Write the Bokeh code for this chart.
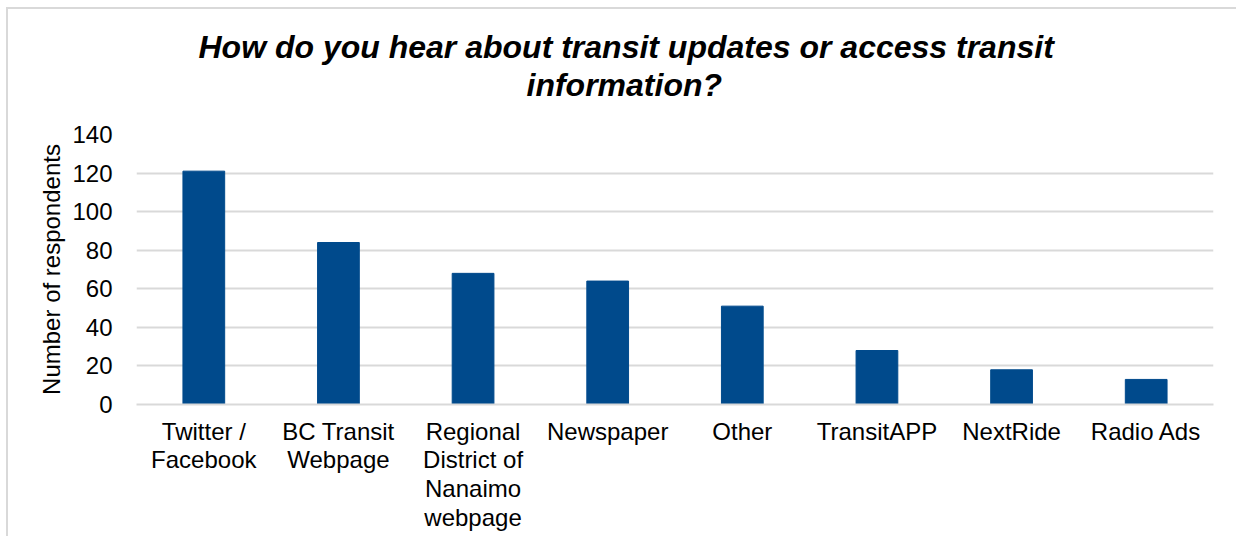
from bokeh.plotting import figure
from bokeh.models import Range1d, FactorRange, ColumnDataSource, Title, FixedTicker
from bokeh.embed import file_html
from bokeh.resources import INLINE

categories = ["Twitter /\nFacebook", "BC Transit\nWebpage",
              "Regional\nDistrict of\nNanaimo\nwebpage", "Newspaper", "Other",
              "TransitAPP", "NextRide", "Radio Ads"]
values = [121, 84, 68, 64, 51, 28, 18, 13]
y_ticks = [0, 20, 40, 60, 80, 100, 120, 140]
title_line1 = "How do you hear about transit updates or access transit"
title_line2 = "information?"
y_label = "Number of respondents"

FONT = "Liberation Sans"
BAR = "#004A8C"
GRID = "#d9d9d9"

src = ColumnDataSource(dict(cat=categories, val=values))

p = figure(width=1230, height=529, output_backend="svg", toolbar_location=None,
           x_range=FactorRange(factors=categories, range_padding=0),
           y_range=Range1d(0, 140),
           min_border_left=128, min_border_right=25, min_border_top=125,
           min_border_bottom=134)
p.styles = {"border-left": "2px solid #d9d9d9", "border-top": "2px solid #d9d9d9",
            "margin-left": "6px", "margin-top": "7px"}

p.vbar(x="cat", top="val", width=0.31, source=src, color=BAR)

t2 = Title(text=title_line2, align="left", text_font=FONT, text_font_size="32px",
           text_font_style="bold italic", text_color="black", offset=390, standoff=63,
           text_line_height=1.0)
t1 = Title(text=title_line1, align="left", text_font=FONT, text_font_size="32px",
           text_font_style="bold italic", text_color="black", offset=62, standoff=-63,
           text_line_height=1.0)
p.add_layout(t2, "above")
p.add_layout(t1, "above")

p.outline_line_color = None
p.xgrid.grid_line_color = None
p.ygrid.grid_line_color = GRID
p.ygrid.grid_line_width = 2
p.yaxis.ticker = FixedTicker(ticks=y_ticks)

p.yaxis.axis_line_color = None
p.yaxis.major_tick_line_color = None
p.yaxis.minor_tick_line_color = None
p.yaxis.major_label_standoff = 18
p.yaxis.major_label_text_font = FONT
p.yaxis.major_label_text_font_size = "24px"
p.yaxis.major_label_text_color = "black"
p.yaxis.axis_label = y_label
p.yaxis.axis_label_text_font = FONT
p.yaxis.axis_label_text_font_size = "24px"
p.yaxis.axis_label_text_font_style = "normal"
p.yaxis.axis_label_text_color = "black"
p.yaxis.axis_label_standoff = 4

p.xaxis.axis_line_color = GRID
p.xaxis.axis_line_width = 2
p.xaxis.major_tick_line_color = None
p.xaxis.minor_tick_line_color = None
p.xaxis.major_label_standoff = 7
p.xaxis.major_label_text_font = FONT
p.xaxis.major_label_text_font_size = "24px"
p.xaxis.major_label_text_color = "black"
p.xaxis.major_label_text_line_height = 1.07

open("out.html", "w").write(file_html(p, INLINE))
